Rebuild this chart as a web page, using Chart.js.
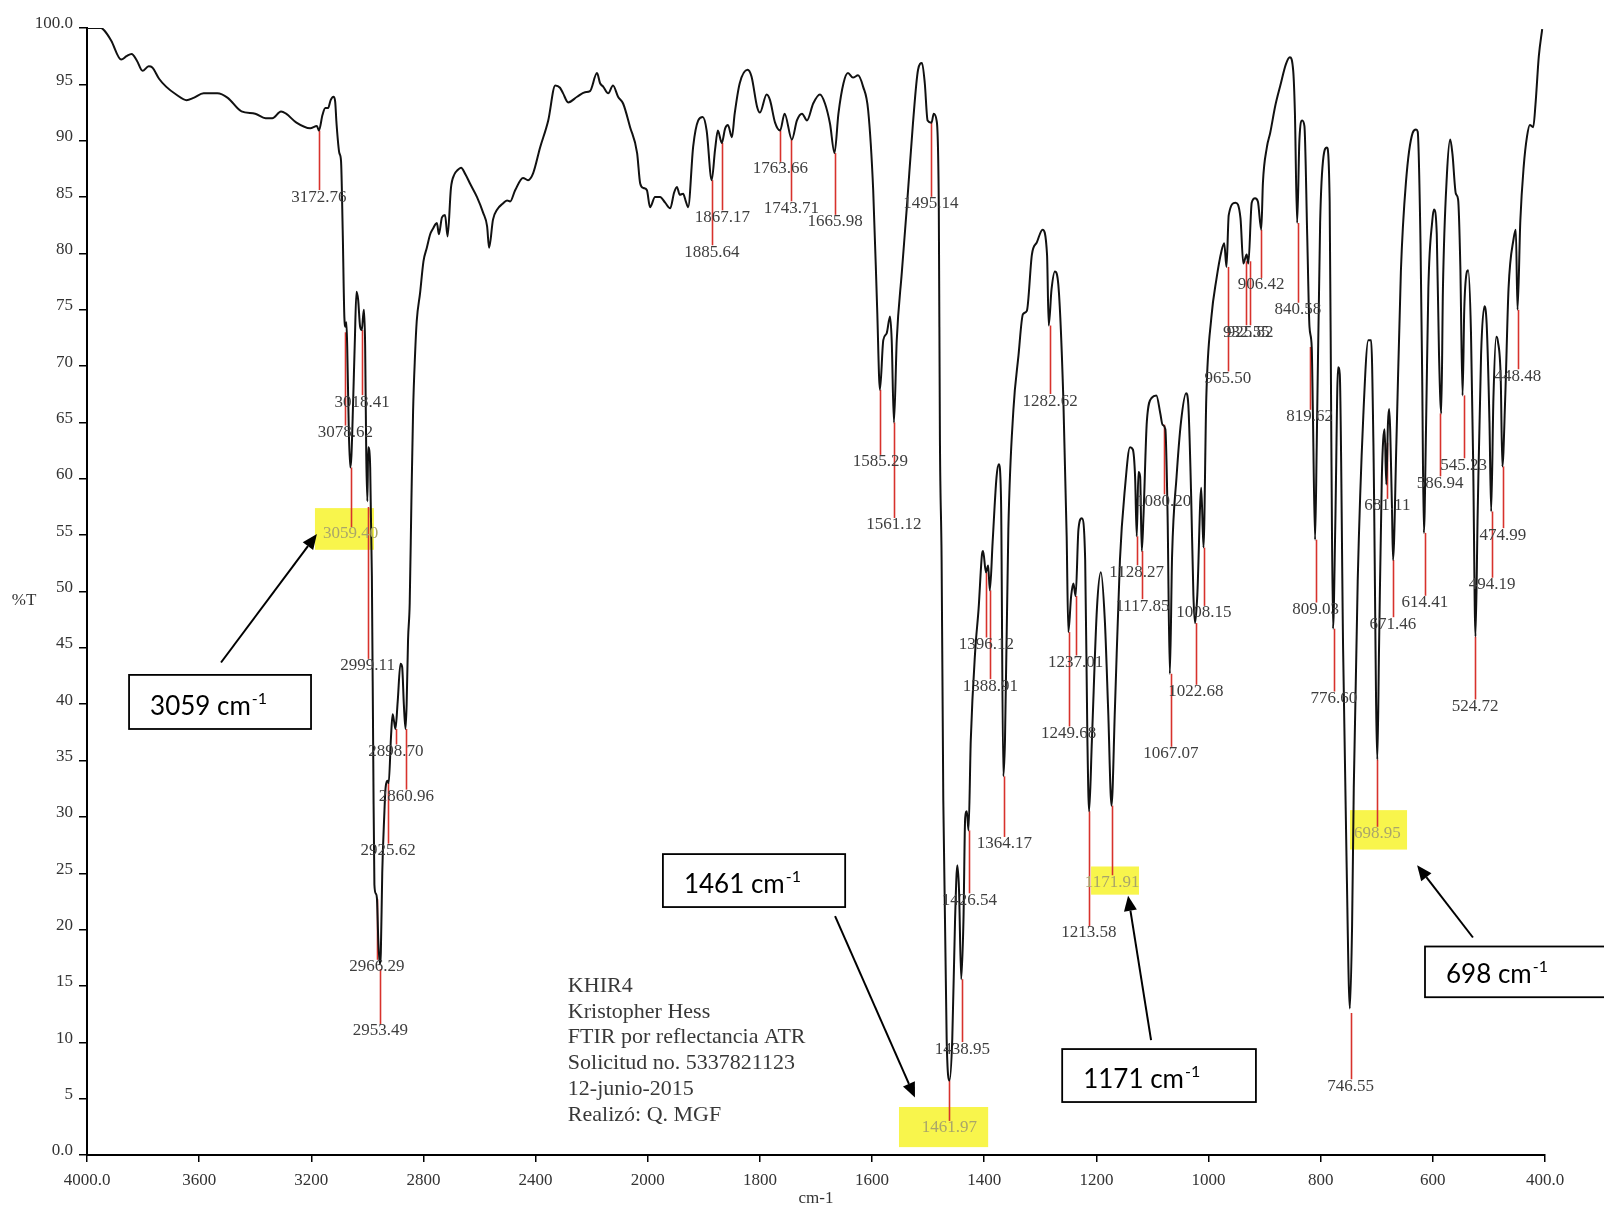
<!DOCTYPE html>
<html>
<head>
<meta charset="utf-8">
<script src="https://cdn.jsdelivr.net/npm/chart.js@4.4.1/dist/chart.umd.min.js"></script>
<style>
html,body{margin:0;padding:0;background:#fff;}
#wrap{width:1604px;height:1209px;position:relative;}
canvas{display:block;}
</style>
</head>
<body>
<div id="wrap"><canvas id="c" width="1604" height="1209"></canvas></div>
<script>
// ---------------- DATA ----------------
const spectrumWn = [4000,3950,3939,3914,3878,3859,3841,3822,3802,3780,3767,3743,3718,3682,3645,3620,3584,3535,3498,3449,3400,3363,3339,3308,3290,3253,3204,3180,3173,3160,3150,3140,3131,3121,3115,3110,3100,3094,3088,3082,3078,3075,3072,3066,3061,3057,3051,3045,3039,3033,3026,3020,3015,3012,3008,3004,3000,2997,2993,2990,2984,2979,2975,2970,2966,2961,2956,2952,2947,2940,2935,2927,2924,2916,2910,2905,2900,2892,2882,2876,2870,2864,2860,2855,2849,2843,2837,2830,2824,2812,2800,2788,2776,2766,2757,2752,2745,2734,2723,2714,2702,2690,2678,2666,2650,2634,2609,2587,2573,2566,2552,2537,2518,2502,2491,2473,2445,2427,2409,2384,2355,2330,2313,2302,2284,2252,2224,2206,2181,2170,2159,2141,2124,2106,2088,2063,2038,2027,2015,2003,1996,1987,1978,1969,1960,1953,1948,1943,1937,1932,1928,1919,1910,1902,1895,1886,1880,1875,1868,1862,1857,1850,1845,1836,1822,1815,1805,1800,1788,1782,1773,1764,1756,1743,1734,1725,1716,1705,1693,1684,1675,1667,1660,1651,1643,1634,1625,1616,1607,1598,1591,1586,1580,1574,1568,1565,1561,1556,1547,1538,1527,1518,1511,1506,1501,1494,1490,1485,1481,1479,1476,1473,1467,1462,1457,1452,1448,1445,1441,1437,1434,1431,1428,1424,1416,1410,1404,1402,1397,1393,1390,1385,1378,1374,1370,1366,1363,1357,1348,1339,1331,1324,1315,1306,1296,1288,1285,1280,1274,1268,1259,1253,1250,1245,1241,1237,1232,1226,1220,1216,1213,1208,1199,1192,1185,1179,1173,1167,1158,1149,1140,1135,1131,1128,1125,1122,1119,1116,1110,1101,1093,1086,1082,1077,1073,1069,1065,1057,1049,1040,1036,1031,1027,1024,1020,1013,1009,1004,995,986,977,972,968,964,952,943,938,932,929,923,917,912,906,903,896,890,881,872,862,855,849,846,842,838,833,829,824,820,816,814,810,807,801,795,789,784,781,778,774,769,766,760,754,748,744,741,734,724,715,710,706,699,696,691,686,683,680,678,673,671,665,657,648,636,630,627,622,619,616,612,608,601,598,593,589,585,582,575,569,565,559,555,551,547,544,540,537,532,528,524,520,514,508,504,499,496,492,487,484,479,476,471,465,456,452,449,444,438,432,427,421,417,411,405];
const spectrumT = [100,100,99.8,98.9,97.2,97.5,97.7,97.1,96.2,96.6,96.5,95.5,94.8,94.1,93.6,93.8,94.2,94.2,93.8,92.6,92.4,92.0,92.0,92.6,92.4,91.6,91.1,91.3,90.9,92.3,92.9,92.9,93.6,93.9,93.5,91.5,88.9,88.2,82,74.3,73.5,73.9,71.8,64,61,62,66.7,72,76.6,75.9,73.5,73.2,74.5,75,71.8,62,58,62.8,62.5,61,51.4,35,24,23.2,22.8,19,17,18,25,30,32.6,33.2,33,37,39.1,38.5,37.8,40.2,43.6,43.3,40,37.8,40,45.7,49,58,66,71,74,76.5,79.3,80.5,81.7,82.2,82.6,82.7,81.7,83.2,83.4,81.5,85.8,87,87.4,87.6,87,86.2,85,83.6,82.4,80.5,83,83.9,84.4,84.7,84.6,85.6,86.7,86.5,87.1,89.4,91.8,94.9,94.7,94.2,93.4,93.9,94.3,94.4,96,95.1,94.8,94.2,94.9,93.9,93.3,91.2,88.9,86.2,85.8,85.6,84.1,85,85,84.5,84,85.4,85.9,85.2,85.3,84.6,84.1,89.5,91.8,92.1,90.9,86.5,89.2,90.9,89.8,91.1,91.4,90.3,92.4,95.1,96.3,95.7,93,92.5,94.1,93.6,91.6,90.9,92.4,90.1,91.8,92.4,91.8,93.3,94.1,93.3,91.5,88.9,92.4,95.1,96,95.6,95.8,94.8,92.7,85.6,75.2,67.9,72.3,72.9,74.4,72.3,65,72.3,78.3,84.1,91.6,96.3,96.9,95.1,91.8,91.6,92.4,91.8,84.1,63.4,52.8,31.5,10.3,6.6,10.3,20.9,25.7,23.6,15.6,20.9,29.9,30.5,28.8,36.8,44.8,48.5,53.3,53.6,51.7,52.3,50.1,54.4,60.2,61.3,58.1,33.6,36.8,55.5,66.1,70.9,74.6,74.9,79.9,81,82.1,79.9,73.6,76.8,78.4,77.3,67.2,54.9,46.4,49.6,50.7,49.6,55.5,56.5,52.8,36.8,30.5,36.8,48.5,51.7,47.5,39.5,31,39.5,52.8,59.2,62.8,62.6,60.2,54.9,60.6,60.2,53.6,56.7,65.1,67.2,67.4,65.8,64.8,64.4,56.7,42.7,53.2,60.2,65.1,67.6,66.5,58.5,49.7,47.2,49.7,59.2,53.9,67.2,74.3,77.7,80.2,80.9,78.8,83.4,84.5,83.1,79.1,79.9,79.1,84.5,84.9,84.6,82.1,86.3,89.4,90.7,93.1,94.9,96.8,97.4,96.2,92.5,82.7,90,91.8,91.3,81.5,73.5,71.7,66.2,54.6,63.2,82.7,88.6,89.4,84.6,63.2,46.7,55.8,69.9,69.3,44.8,26.5,13,20.4,32.6,50.9,65.6,72.3,72.3,63.2,35.1,44.8,60.1,64.4,59.5,65,66.2,57.7,52.8,63.2,78.4,86.3,90.7,91,90.8,80.9,69,55.2,65,76.9,82.9,83.9,81.7,71,65.8,76.9,86.9,90.1,88.8,85.3,84.8,78.9,67.4,75,78.2,78.5,73,61.1,46,57.1,71,75.3,73.7,65,57.1,67.1,72.6,72.2,69,61.1,67.1,76.9,81.3,82.1,75,82.9,87.7,90.4,91.4,91.2,93.2,97.5,99.9];

const xTickValues = [4000,3600,3200,2800,2400,2000,1800,1600,1400,1200,1000,800,600,400];
const yTickValues = [0,5,10,15,20,25,30,35,40,45,50,55,60,65,70,75,80,85,90,95,100];

const peakWn = [3172.76,3078.62,3059.40,3018.41,2999.11,2966.29,2953.49,2925.62,2898.70,2860.96,1885.64,1867.17,1763.66,1743.71,1665.98,1585.29,1561.12,1495.14,1461.97,1438.95,1426.54,1396.12,1388.91,1364.17,1282.62,1249.68,1237.01,1213.58,1171.91,1128.27,1117.85,1080.20,1067.07,1022.68,1008.15,965.50,932.55,925.82,906.42,840.58,819.62,809.03,776.60,746.55,698.95,681.11,671.46,614.41,586.94,545.23,524.72,494.19,474.99,448.48];
const peakLabels = ['3172.76','3078.62','3059.40','3018.41','2999.11','2966.29','2953.49','2925.62','2898.70','2860.96','1885.64','1867.17','1763.66','1743.71','1665.98','1585.29','1561.12','1495.14','1461.97','1438.95','1426.54','1396.12','1388.91','1364.17','1282.62','1249.68','1237.01','1213.58','1171.91','1128.27','1117.85','1080.20','1067.07','1022.68','1008.15','965.50','932.55','925.82','906.42','840.58','819.62','809.03','776.60','746.55','698.95','681.11','671.46','614.41','586.94','545.23','524.72','494.19','474.99','448.48'];
const peakTopT = [90.9,73.0,61.0,73.2,57.5,22.7,16.5,33.0,37.8,37.8,86.5,89.8,90.9,90.1,88.9,67.9,65.0,91.6,6.6,15.6,28.8,51.7,50.1,33.6,73.6,46.4,49.6,30.5,31.0,54.9,53.6,64.8,42.7,47.2,53.9,78.8,79.3,79.3,82.1,82.7,71.7,54.6,46.7,12.6,35.1,63.2,52.8,55.2,65.8,67.4,46.0,57.1,61.1,75.0];
const peakLabelT = [85.0,64.1,55.1,66.8,43.4,16.7,11.0,27.0,35.8,31.8,80.1,83.2,87.5,84.0,82.8,61.5,55.9,84.4,2.4,9.4,22.6,45.3,41.6,27.6,66.9,37.4,43.7,19.7,24.2,51.7,48.7,58.0,35.6,41.1,48.1,68.9,73.0,73.0,77.2,75.0,65.5,48.4,40.5,6.1,28.5,57.6,47.1,49.0,59.6,61.2,39.8,50.6,55.0,69.1];

const highlightedPeaks = ['3059.40','1461.97','1171.91','698.95'];
const calloutTexts = ['3059','1461','1171','698'];
const infoLines = ['KHIR4','Kristopher Hess','FTIR por reflectancia ATR','Solicitud no. 5337821123','12-junio-2015','Realizó: Q. MGF'];
const xTitle = 'cm-1';
const yTitle = '%T';

// ---------------- LAYOUT (positions in axis units) ----------------
const layoutCfg = {
  highlightBoxes: [ // [wnLeft, wnRight, Ttop, Tbottom]
    [3187, 2976.5, 57.4, 53.7],
    [1552, 1393, 4.26, 0.7],
    [1209.5, 1124, 25.6, 23.1],
    [747.7, 646, 30.6, 27.1]
  ],
  calloutBoxes: [ // [wnLeft, wnRight, Ttop, Tbottom]
    [3850, 3201, 42.6, 37.8],
    [1973, 1648, 26.7, 22.0],
    [1261, 915.5, 9.4, 4.7],
    [614, 280, 18.5, 14.0]
  ],
  arrows: [ // [wnFrom, Tfrom, wnTo, Tto]
    [3522, 43.7, 3180, 55.1],
    [1666, 21.2, 1523.5, 5.1],
    [1102.5, 10.2, 1143.5, 23.0],
    [528.5, 19.3, 628, 25.7]
  ],
  infoAnchor: [2285, 14.46],
  yTitleT: 49.2
};

// ---------------- split wavenumber scale (x2 expansion below 2000) ----------------
const HI = 4000, BRK = 2000, LO = 400;
const SPAN = (HI - BRK) + 2 * (BRK - LO);
function wnToDec(v) { return v >= BRK ? (HI - v) / SPAN : ((HI - BRK) + 2 * (BRK - v)) / SPAN; }
function decToWn(d) { const u = d * SPAN; return u <= (HI - BRK) ? HI - u : BRK - (u - (HI - BRK)) / 2; }

class FtirScale extends Chart.LinearScale {
  getPixelForValue(v) { return (v === null || v === undefined) ? NaN : this.getPixelForDecimal(wnToDec(v)); }
  getValueForPixel(p) { return decToWn(this.getDecimalForPixel(p)); }
}
FtirScale.id = 'ftir';
FtirScale.defaults = {};
Chart.register(FtirScale);

const serif = '"Liberation Serif", "DejaVu Serif", serif';

const annotPlugin = {
  id: 'annot',
  beforeDatasetsDraw(chart) {
    const { ctx, scales: { x, y } } = chart;
    ctx.save();
    ctx.fillStyle = '#f8f54c';
    layoutCfg.highlightBoxes.forEach(b => {
      const x1 = x.getPixelForValue(b[0]), x2 = x.getPixelForValue(b[1]);
      const y1 = y.getPixelForValue(b[2]), y2 = y.getPixelForValue(b[3]);
      ctx.fillRect(x1, y1, x2 - x1, y2 - y1);
    });
    ctx.strokeStyle = '#d8322c';
    ctx.lineWidth = 1.6;
    peakWn.forEach((w, i) => {
      const px = Math.round(x.getPixelForValue(w)) + 0.5;
      ctx.beginPath();
      ctx.moveTo(px, y.getPixelForValue(peakTopT[i]));
      ctx.lineTo(px, y.getPixelForValue(peakLabelT[i]) - 7);
      ctx.stroke();
    });
    ctx.restore();
  },
  afterDatasetsDraw(chart) {
    const { ctx, scales: { x, y } } = chart;
    ctx.save();
    // peak labels
    ctx.font = '17px ' + serif;
    ctx.textAlign = 'center';
    ctx.textBaseline = 'middle';
    peakLabels.forEach((t, i) => {
      ctx.fillStyle = highlightedPeaks.includes(t) ? '#a9a56a' : '#3e3e3e';
      ctx.fillText(t, x.getPixelForValue(peakWn[i]), y.getPixelForValue(peakLabelT[i]));
    });
    // info block
    ctx.font = '22px ' + serif;
    ctx.textAlign = 'left';
    ctx.textBaseline = 'alphabetic';
    ctx.fillStyle = '#383838';
    const ix = x.getPixelForValue(layoutCfg.infoAnchor[0]);
    const iy = y.getPixelForValue(layoutCfg.infoAnchor[1]);
    infoLines.forEach((l, i) => ctx.fillText(l, ix, iy + i * 25.7));
    // y title
    ctx.font = '17px ' + serif;
    ctx.textAlign = 'center';
    ctx.textBaseline = 'middle';
    ctx.fillStyle = '#333';
    ctx.fillText(yTitle, 24, y.getPixelForValue(layoutCfg.yTitleT));
    // arrows
    ctx.strokeStyle = '#000';
    ctx.fillStyle = '#000';
    ctx.lineWidth = 2;
    layoutCfg.arrows.forEach(a => {
      const x1 = x.getPixelForValue(a[0]), y1 = y.getPixelForValue(a[1]);
      const x2 = x.getPixelForValue(a[2]), y2 = y.getPixelForValue(a[3]);
      const ang = Math.atan2(y2 - y1, x2 - x1);
      const hl = 15, hw = 6.5;
      const bx = x2 - hl * Math.cos(ang), by = y2 - hl * Math.sin(ang);
      ctx.beginPath(); ctx.moveTo(x1, y1); ctx.lineTo(bx, by); ctx.stroke();
      ctx.beginPath();
      ctx.moveTo(x2, y2);
      ctx.lineTo(bx + hw * Math.sin(ang), by - hw * Math.cos(ang));
      ctx.lineTo(bx - hw * Math.sin(ang), by + hw * Math.cos(ang));
      ctx.closePath(); ctx.fill();
    });
    // callout boxes
    layoutCfg.calloutBoxes.forEach((b, i) => {
      const x1 = x.getPixelForValue(b[0]), x2 = x.getPixelForValue(b[1]);
      const y1 = y.getPixelForValue(b[2]), y2 = y.getPixelForValue(b[3]);
      ctx.fillStyle = '#fff';
      ctx.fillRect(x1, y1, x2 - x1, y2 - y1);
      ctx.strokeStyle = '#000';
      ctx.lineWidth = 1.8;
      ctx.strokeRect(x1, y1, x2 - x1, y2 - y1);
      ctx.fillStyle = '#000';
      ctx.textAlign = 'left';
      ctx.textBaseline = 'alphabetic';
      ctx.font = '26px Lato, "Open Sans", sans-serif';
      const main = calloutTexts[i] + ' cm';
      const tx = x1 + 21, ty = y2 - 14;
      ctx.fillText(main, tx, ty);
      const w = ctx.measureText(main).width;
      ctx.font = '16px Lato, "Open Sans", sans-serif';
      ctx.fillText('-1', tx + w + 1, ty - 11);
    });
    ctx.restore();
  }
};

new Chart(document.getElementById('c'), {
  type: 'line',
  data: {
    datasets: [{
      data: spectrumWn.map((w, i) => ({ x: w, y: spectrumT[i] })),
      borderColor: '#111',
      borderWidth: 2,
      pointRadius: 0,
      cubicInterpolationMode: 'monotone',
      fill: false
    }]
  },
  options: {
    responsive: false,
    animation: false,
    events: [],
    layout: { padding: { top: 28, right: 59, left: 0, bottom: 0 } },
    plugins: { legend: { display: false }, tooltip: { enabled: false } },
    scales: {
      x: {
        type: 'ftir',
        min: LO, max: HI,
        afterBuildTicks: s => { s.ticks = xTickValues.map(v => ({ value: v })); },
        afterFit: s => { s.height = 54; s.paddingLeft = 0; s.paddingRight = 0; },
        ticks: {
          autoSkip: false, maxRotation: 0, padding: 8,
          callback: v => v === HI ? '4000.0' : (v === LO ? '400.0' : String(v)),
          font: { family: serif, size: 17 }, color: '#333'
        },
        grid: { drawOnChartArea: false, drawTicks: true, tickLength: 7, color: '#000', lineWidth: 1.5 },
        border: { display: true, color: '#000', width: 2 },
        title: { display: true, text: xTitle, font: { family: serif, size: 17 }, color: '#333', padding: { top: 0, bottom: 0 } }
      },
      y: {
        type: 'linear',
        min: 0, max: 100,
        afterBuildTicks: s => { s.ticks = yTickValues.map(v => ({ value: v })); },
        afterFit: s => { s.width = 87; s.paddingTop = 0; s.paddingBottom = 0; },
        ticks: {
          autoSkip: false, padding: 6, labelOffset: -4,
          callback: v => v === 100 ? '100.0' : (v === 0 ? '0.0' : String(v)),
          font: { family: serif, size: 17 }, color: '#333'
        },
        grid: { drawOnChartArea: false, drawTicks: true, tickLength: 8, color: '#000', lineWidth: 1.5 },
        border: { display: true, color: '#000', width: 2 }
      }
    }
  },
  plugins: [annotPlugin]
});
</script>
</body>
</html>
